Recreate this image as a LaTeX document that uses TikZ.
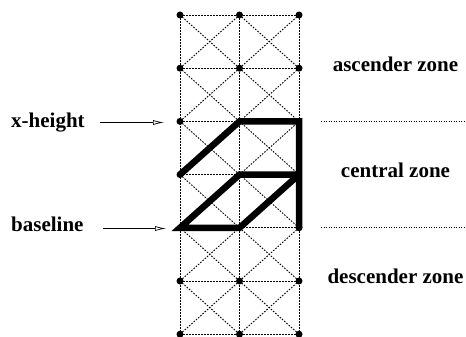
\documentclass[tikz,border=0pt]{standalone}
\usepackage{fontspec}
\setmainfont{Liberation Serif}
\usetikzlibrary{arrows.meta}
\begin{document}
\begin{tikzpicture}[x=1pt,y=-1pt,
  gridline/.style={dash pattern=on 1.6pt off 1.4pt,line width=0.9pt},
  zoneline/.style={dash pattern=on 0.9pt off 1.6pt,line width=0.7pt},
  glyph/.style={line width=6.5pt,line join=miter},
  lbl/.style={font=\fontsize{21}{24}\selectfont\bfseries,inner sep=0pt},
  ptr/.style={-{Latex[open,length=11pt,width=5pt]},line width=0.7pt}]
\useasboundingbox (0,0) rectangle (466,337);
\foreach \c/\x in {0/180,1/239.5,2/299}{\foreach \r in {0,...,6}{\coordinate (p\c\r) at (\x,15+53.2*\r);}}
% dotted grid
\foreach \r in {0,...,6}{\draw[gridline] (p0\r) -- (p2\r);}
\foreach \c in {0,1,2}{\draw[gridline] (p\c0) -- (p\c6);}
\foreach \r/\s in {0/1,1/2,2/3,3/4,4/5,5/6}{
  \draw[gridline] (p0\r) -- (p1\s) (p1\r) -- (p0\s) (p1\r) -- (p2\s) (p2\r) -- (p1\s);}
\foreach \p in {p00,p10,p20,p01,p11,p21,p02,p03,p24,p05,p15,p25,p06,p16,p26}{\fill (\p) circle (3.5);}
% the letter
\draw[glyph] (p03) -- (p12) -- (p22) -- (p24);
\draw[glyph] (p23) -- (p13) -- (p04) -- (p14) -- (p23);
% zones
\draw[zoneline] (321,121.4) -- (466,121.4);
\draw[zoneline] (321,227.8) -- (466,227.8);
\node[lbl,anchor=base] (asc) at (395.5,72) {ascender zone};
\node[lbl,anchor=base] (cen) at (395.5,177) {central zone};
\node[lbl,anchor=base] (desc) at (395.5,283) {descender zone};
% left labels
\node[lbl,anchor=base west] (xh) at (11,127) {x-height};
\node[lbl,anchor=base west] (bl) at (11,231) {baseline};
\coordinate (xha) at (100,122.5); \coordinate (bla) at (103,228.5);
\draw[ptr,shorten >=16pt] (xha) -- (xha -| p02);
\draw[ptr,shorten >=14pt] (bla) -- (bla -| p04);
\end{tikzpicture}
\end{document}
